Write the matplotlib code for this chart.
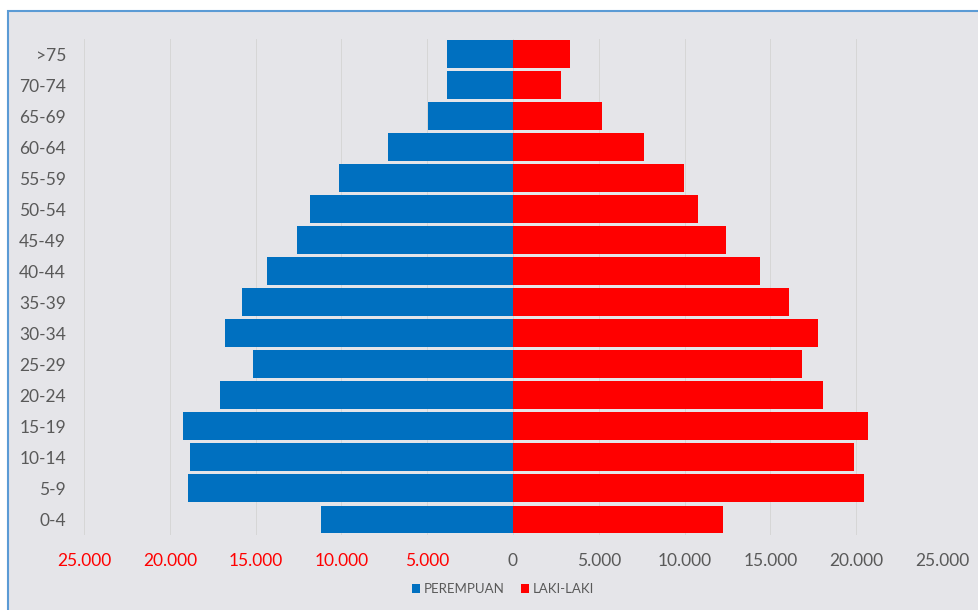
import numpy as np
import matplotlib.pyplot as plt
from matplotlib.patches import Rectangle

# age groups, bottom to top
umur = ['0-4', '5-9', '10-14', '15-19', '20-24', '25-29', '30-34', '35-39',
        '40-44', '45-49', '50-54', '55-59', '60-64', '65-69', '70-74', '>75']
perempuan = [11170, 18950, 18820, 19250, 17050, 15180, 16790, 15820,
             14360, 12590, 11850, 10140, 7300, 4960, 3835, 3835]
laki_laki = [12220, 20450, 19900, 20680, 18060, 16870, 17800, 16090,
             14420, 12430, 10800, 9980, 7630, 5180, 2820, 3310]
xticks = [-25000, -20000, -15000, -10000, -5000, 0, 5000, 10000, 15000, 20000, 25000]

plt.rcParams['font.family'] = ['Lato', 'DejaVu Sans']

fig = plt.figure(figsize=(9.79, 6.10), dpi=100)
fig.patch.set_facecolor('white')

# chart area (marble-ish light grey) with blue border
bg = Rectangle((8/979, -0.02), 1.0, 1 - 11/610 + 0.02, transform=fig.transFigure,
               facecolor='#e5e5e9', edgecolor='#5b9bd5', linewidth=1.5, zorder=-10)
fig.patches.append(bg)

ax = fig.add_axes([84/979, 1 - 535/610, 858/979, 496.5/610])
ax.set_facecolor('none')

y = np.arange(len(umur))
ax.barh(y, -np.array(perempuan), height=0.9, color='#0070C0', label='PEREMPUAN', zorder=3)
ax.barh(y, laki_laki, height=0.9, color='#FF0000', label='LAKI-LAKI', zorder=3)

ax.set_xlim(-25000, 25000)
ax.set_ylim(-0.5, len(umur) - 0.5)
ax.set_xticks(xticks)
ax.set_xticklabels(['{:,}'.format(abs(v)).replace(',', '.') for v in xticks])
for lbl, v in zip(ax.get_xticklabels(), xticks):
    lbl.set_color('#FF0000' if v < 0 else '#595959')
ax.set_yticks(y)
ax.set_yticklabels(umur, color='#595959')
ax.tick_params(axis='x', length=0, pad=13, labelsize=12.5)
ax.tick_params(axis='y', length=0, pad=13, labelsize=12.5)

ax.grid(axis='x', color='#d6d6d6', linewidth=0.7, zorder=1)
for s in ax.spines.values():
    s.set_visible(False)

leg = fig.legend(loc='center', bbox_to_anchor=(503/979, 1 - 589/610), ncol=2,
                 frameon=False, fontsize=9.5, handlelength=0.6, handleheight=0.6,
                 handletextpad=0.3, columnspacing=1.2)
for t in leg.get_texts():
    t.set_color('#595959')

fig.savefig('out.png', dpi=100)
